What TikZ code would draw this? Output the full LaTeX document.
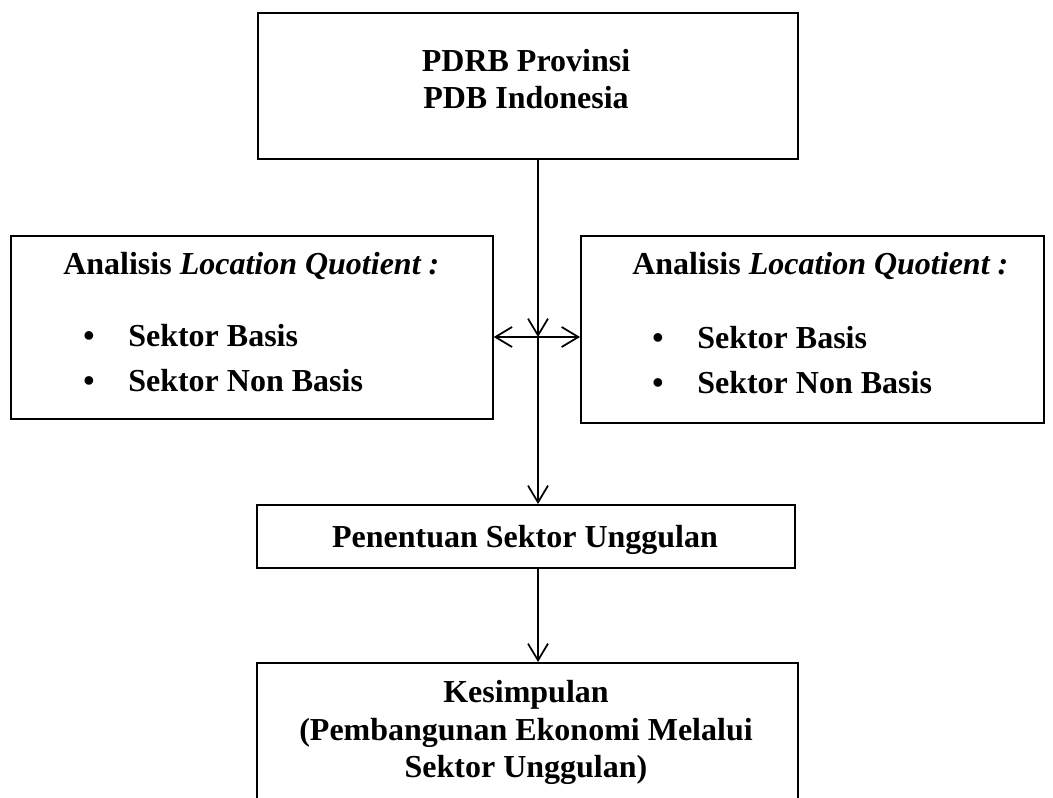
\documentclass[tikz,border=0pt]{standalone}
\usepackage{fontspec}
\setmainfont{Liberation Serif}
\usetikzlibrary{arrows.meta,calc}
\tikzset{
  box/.style={draw, line width=1.3pt, rectangle, inner sep=0pt, anchor=north west},
  txt/.style={inner sep=0pt, font=\fontsize{24}{27.75}\selectfont\bfseries},
  conn/.style={line width=1.3pt, -{Straight Barb[length=12.5pt,width=15pt,line width=1.3pt]}},
  conn2/.style={line width=1.3pt, {Straight Barb[length=12.5pt,width=15pt,line width=1.3pt]}-{Straight Barb[length=12.5pt,width=15pt,line width=1.3pt]}}
}
\begin{document}
\begin{tikzpicture}[x=0.75pt,y=-0.75pt]
\clip (0,0) rectangle (1053,798);
\fill[white] (0,0) rectangle (1053,798);
% boxes
\node[box, minimum width=540*0.75pt, minimum height=146*0.75pt] (top) at (257,12) {};
\node[box, minimum width=482*0.75pt, minimum height=183*0.75pt] (left) at (10,235) {};
\node[box, minimum width=463*0.75pt, minimum height=187*0.75pt] (right) at (580,235) {};
\node[box, minimum width=538*0.75pt, minimum height=63*0.75pt] (mid) at (256,504) {};
\node[box, minimum width=541*0.75pt, minimum height=180*0.75pt] (bot) at (256,662) {};
% texts
\node[txt, anchor=base] (t1) at (526,72) {PDRB Provinsi};
\node[txt, anchor=base] (t2) at (526,109) {PDB Indonesia};
\node[txt, anchor=base west] (l0) at (63,275) {Analisis \textit{Location Quotient :}};
\node[txt, anchor=base west] (lb1) at (83,347) {•};
\node[txt, anchor=base west] (l1) at (128,347) {Sektor Basis};
\node[txt, anchor=base west] (lb2) at (83,392) {•};
\node[txt, anchor=base west] (l2) at (128,392) {Sektor Non Basis};
\node[txt, anchor=base west] (r0) at (632,275) {Analisis \textit{Location Quotient :}};
\node[txt, anchor=base west] (rb1) at (652,349) {•};
\node[txt, anchor=base west] (r1) at (697,349) {Sektor Basis};
\node[txt, anchor=base west] (rb2) at (652,394) {•};
\node[txt, anchor=base west] (r2) at (697,394) {Sektor Non Basis};
\node[txt, anchor=base] (m) at (525,547) {Penentuan Sektor Unggulan};
\node[txt, anchor=base] (b1) at (526,702) {Kesimpulan};
\node[txt, anchor=base] (b2) at (526,740) {(Pembangunan Ekonomi Melalui};
\node[txt, anchor=base] (b3) at (526,777) {Sektor Unggulan)};
% connectors
\coordinate (j) at (538,337);
\draw[conn] (j |- top.south) -- (j);
\draw[conn] (j) -- (j |- mid.north);
\draw[conn2] (left.east |- j) -- (right.west |- j);
\draw[conn] (j |- mid.south) -- (j |- bot.north);
\end{tikzpicture}
\end{document}
